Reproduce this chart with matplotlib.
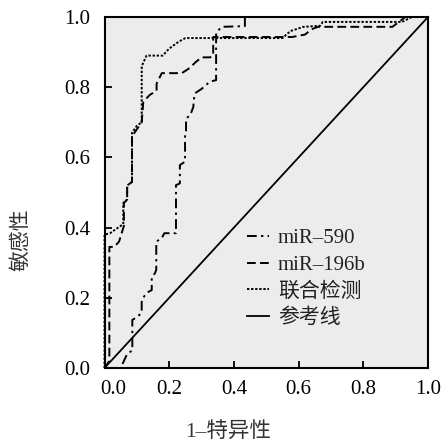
import matplotlib
matplotlib.use("Agg")
import matplotlib.pyplot as plt
from matplotlib.font_manager import FontProperties
from matplotlib.transforms import ScaledTranslation

# ---- data ----
mir590_fpr = [0, 0.05, 0.06, 0.07, 0.086, 0.086, 0.10, 0.115, 0.115, 0.13, 0.146, 0.146,
              0.156, 0.16, 0.16, 0.177, 0.185, 0.221, 0.221, 0.233, 0.233, 0.249, 0.249,
              0.252, 0.252, 0.265, 0.275, 0.275, 0.28, 0.30, 0.326, 0.345, 0.345, 0.362,
              0.434, 0.434, 1.0]
mir590_tpr = [0, 0, 0.02, 0.04, 0.05, 0.137, 0.145, 0.157, 0.194, 0.214, 0.222, 0.259,
              0.27, 0.28, 0.36, 0.37, 0.384, 0.384, 0.521, 0.526, 0.578, 0.588, 0.664,
              0.67, 0.711, 0.72, 0.745, 0.76, 0.783, 0.795, 0.816, 0.82, 0.955, 0.972,
              0.974, 1.0, 1.0]

mir196b_fpr = [0, 0.015, 0.015, 0.03, 0.045, 0.06, 0.06, 0.07, 0.07, 0.085, 0.085, 0.10,
               0.115, 0.12, 0.14, 0.161, 0.161, 0.177, 0.239, 0.264, 0.28, 0.30, 0.326,
               0.336, 0.336, 0.58, 0.62, 0.64, 0.66, 0.89, 0.93, 1.0]
mir196b_tpr = [0, 0.02, 0.345, 0.345, 0.36, 0.405, 0.47, 0.48, 0.52, 0.53, 0.66, 0.68,
               0.70, 0.759, 0.778, 0.79, 0.81, 0.84, 0.84, 0.855, 0.87, 0.885, 0.885,
               0.89, 0.943, 0.943, 0.95, 0.965, 0.972, 0.972, 1.0, 1.0]

combo_fpr = [0, 0, 0.017, 0.05, 0.058, 0.058, 0.07, 0.07, 0.085, 0.085, 0.10, 0.115,
             0.115, 0.13, 0.18, 0.20, 0.23, 0.25, 0.55, 0.575, 0.615, 0.667, 0.675,
             0.92, 0.95, 1.0]
combo_tpr = [0, 0.38, 0.384, 0.405, 0.41, 0.47, 0.48, 0.52, 0.53, 0.67, 0.69, 0.70,
             0.86, 0.89, 0.89, 0.91, 0.93, 0.94, 0.94, 0.96, 0.972, 0.975, 0.986,
             0.986, 1.0, 1.0]

ref_x = [0, 1]
ref_y = [0, 1]

labels = ["miR\u2013590", "miR\u2013196b", "联合检测", "参考线"]
ticks = [0.0, 0.2, 0.4, 0.6, 0.8, 1.0]
tick_labels = ["0.0", "0.2", "0.4", "0.6", "0.8", "1.0"]
xlabel = "1\u2013特异性"
ylabel = "敏感性"

# ---- figure ----
fam = ["Liberation Serif", "Noto Sans CJK SC", "DejaVu Sans"]
cjk = ["Noto Sans CJK SC", "Liberation Serif", "DejaVu Sans"]
plt.rcParams["font.family"] = fam

fig = plt.figure(figsize=(4.43, 4.45), dpi=100)
ax = fig.add_axes([104.5 / 443, 1 - 368 / 445, (428 - 104.5) / 443, (368 - 17) / 445])
ax.set_facecolor("#ececec")

lw = 1.4
ax.plot(mir590_fpr, mir590_tpr, color="black", lw=lw, linestyle=(0, (5, 2.2, 1.2, 2.2)),
        label=labels[0], clip_on=False, zorder=3)
ax.plot(mir196b_fpr, mir196b_tpr, color="black", lw=lw, linestyle=(0, (4.5, 2.2)),
        label=labels[1], clip_on=False, zorder=3)
ax.plot(combo_fpr, combo_tpr, color="black", lw=lw, linestyle=(0, (1.2, 0.9)),
        label=labels[2], clip_on=False, zorder=3)
ax.plot(ref_x, ref_y, color="black", lw=1.3, linestyle="-", label=labels[3])

ax.set_xlim(0, 1)
ax.set_ylim(0, 1)
ax.set_xticks(ticks)
ax.set_yticks(ticks)
ax.set_xticklabels(tick_labels)
ax.set_yticklabels(tick_labels)
ax.tick_params(direction="in", length=5, width=1.3, labelsize=15,
               top=False, right=False)
ax.tick_params(axis="x", pad=9)
ax.tick_params(axis="y", pad=10)
for s in ax.spines.values():
    s.set_linewidth(1.5)

# first x label is shifted right in the reference
lab0 = ax.get_xticklabels()[0]
lab0.set_transform(lab0.get_transform() + ScaledTranslation(9 / 100, 0, fig.dpi_scale_trans))

fig.text(228 / 443, 1 - 432 / 445, xlabel, ha="center", va="center",
         fontsize=15.5, family=fam, color="#333333")
fig.text(20 / 443, 1 - 240 / 445, ylabel, ha="center", va="center", rotation=90,
         fontsize=15, family=cjk, color="#333333")

leg = ax.legend(loc="upper left", bbox_to_anchor=(0.44, 0.397), frameon=False,
                prop=FontProperties(family=fam, size=15), handlelength=1.05,
                handletextpad=0.45, labelspacing=0.34, borderpad=0, borderaxespad=0)
for t in leg.get_texts():
    t.set_color("#222222")

fig.savefig("out.png", dpi=100)
